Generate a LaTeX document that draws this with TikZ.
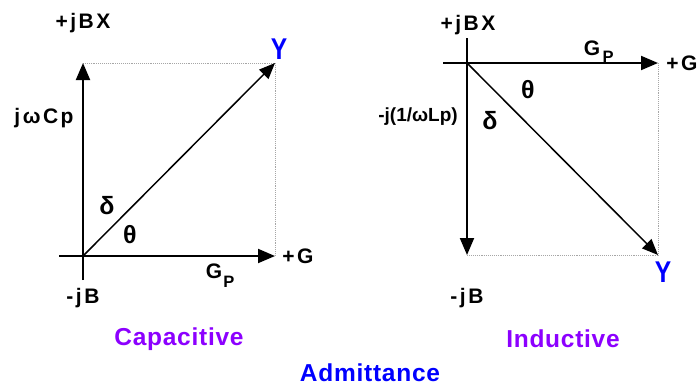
\documentclass[tikz,border=0pt]{standalone}
\usepackage{fontspec}
\setmainfont{Liberation Sans}
\newfontfamily\spfont{Liberation Sans}[LetterSpace=12]
\newfontfamily\ttlfont{Liberation Sans}[LetterSpace=3]
\newfontfamily\narrowfont{Liberation Sans}[FakeStretch=0.82]
\usetikzlibrary{arrows.meta}
\definecolor{yblue}{RGB}{0,0,255}
\definecolor{tpurple}{RGB}{140,0,255}
\tikzset{
  axis/.style={line width=1.9pt,-{Triangle[length=17pt,width=14pt]}},
  vec/.style={line width=1.5pt,-{Triangle[length=16pt,width=13pt]}},
  guide/.style={densely dotted,line width=0.9pt,gray!70},
  lbl/.style={font=\spfont\bfseries\fontsize{21}{23}\selectfont,inner sep=0pt},
  sub/.style={font=\bfseries\fontsize{16.5}{18}\selectfont,inner sep=0pt},
  greek/.style={font=\bfseries\fontsize{25}{27}\selectfont,inner sep=0pt},
  ylbl/.style={font=\narrowfont\bfseries\fontsize{30}{32}\selectfont,text=yblue,inner sep=0pt},
  ttl/.style={font=\ttlfont\bfseries\fontsize{24.5}{26}\selectfont,text=tpurple,inner sep=0pt},
}
\begin{document}
\begin{tikzpicture}[x=1pt,y=-1pt]
\useasboundingbox (0,0) rectangle (699,389);
% ---- Capacitive ----
\coordinate (o1) at (83,256);
\coordinate (v1b) at (83,280);
\coordinate (v1t) at (83,63);
\coordinate (h1l) at (59,256);
\coordinate (h1r) at (275,256);
\coordinate (c1) at (275,63);
\draw[guide] (v1t) -- (c1) -- (h1r);
\draw[axis] (v1b) -- (v1t);
\draw[axis] (h1l) -- (h1r);
\draw[vec] (o1) -- (c1);
\node[lbl] (bx1) at (83,23) {+jBX};
\node[ylbl] (y1) at (279,49) {Y};
\node[lbl] (jwc) at (44,118) {jωCp};
\node[greek] (d1) at (107,206) {δ};
\node[greek] (t1) at (130,235) {θ};
\node[lbl] (g1) at (298,256) {+G};
\node[lbl] (gp1) at (214,271) {G};
\node[sub] (p1) at (229,282) {P};
\node[lbl] (jb1) at (83,298) {-jB};
\node[ttl] (cap) at (179,339) {Capacitive};
% ---- Inductive ----
\coordinate (o2) at (467,63);
\coordinate (v2t) at (467,38);
\coordinate (v2b) at (467,255);
\coordinate (h2l) at (443,63);
\coordinate (h2r) at (658,63);
\coordinate (c2) at (658,255);
\draw[guide] (h2r) -- (c2) -- (v2b);
\draw[axis] (v2t) -- (v2b);
\draw[axis] (h2l) -- (h2r);
\draw[vec] (o2) -- (c2);
\node[lbl] (bx2) at (468,25) {+jBX};
\node[lbl] (gp2) at (592,48) {G};
\node[sub] (p2) at (608,57) {P};
\node[lbl] (g2) at (682,63) {+G};
\node[greek] (t2) at (528,90) {θ};
\node[greek] (d2) at (490,121) {δ};
\node[lbl,font=\bfseries\fontsize{19}{21}\selectfont] (jl) at (418,117) {-j(1/ωLp)};
\node[ylbl] (y2) at (663,272) {Y};
\node[lbl] (jb2) at (467,298) {-jB};
\node[ttl] (ind) at (563,339) {Inductive};
% ---- title ----
\node[ttl,text=yblue] (adm) at (370,373) {Admittance};
\end{tikzpicture}
\end{document}
